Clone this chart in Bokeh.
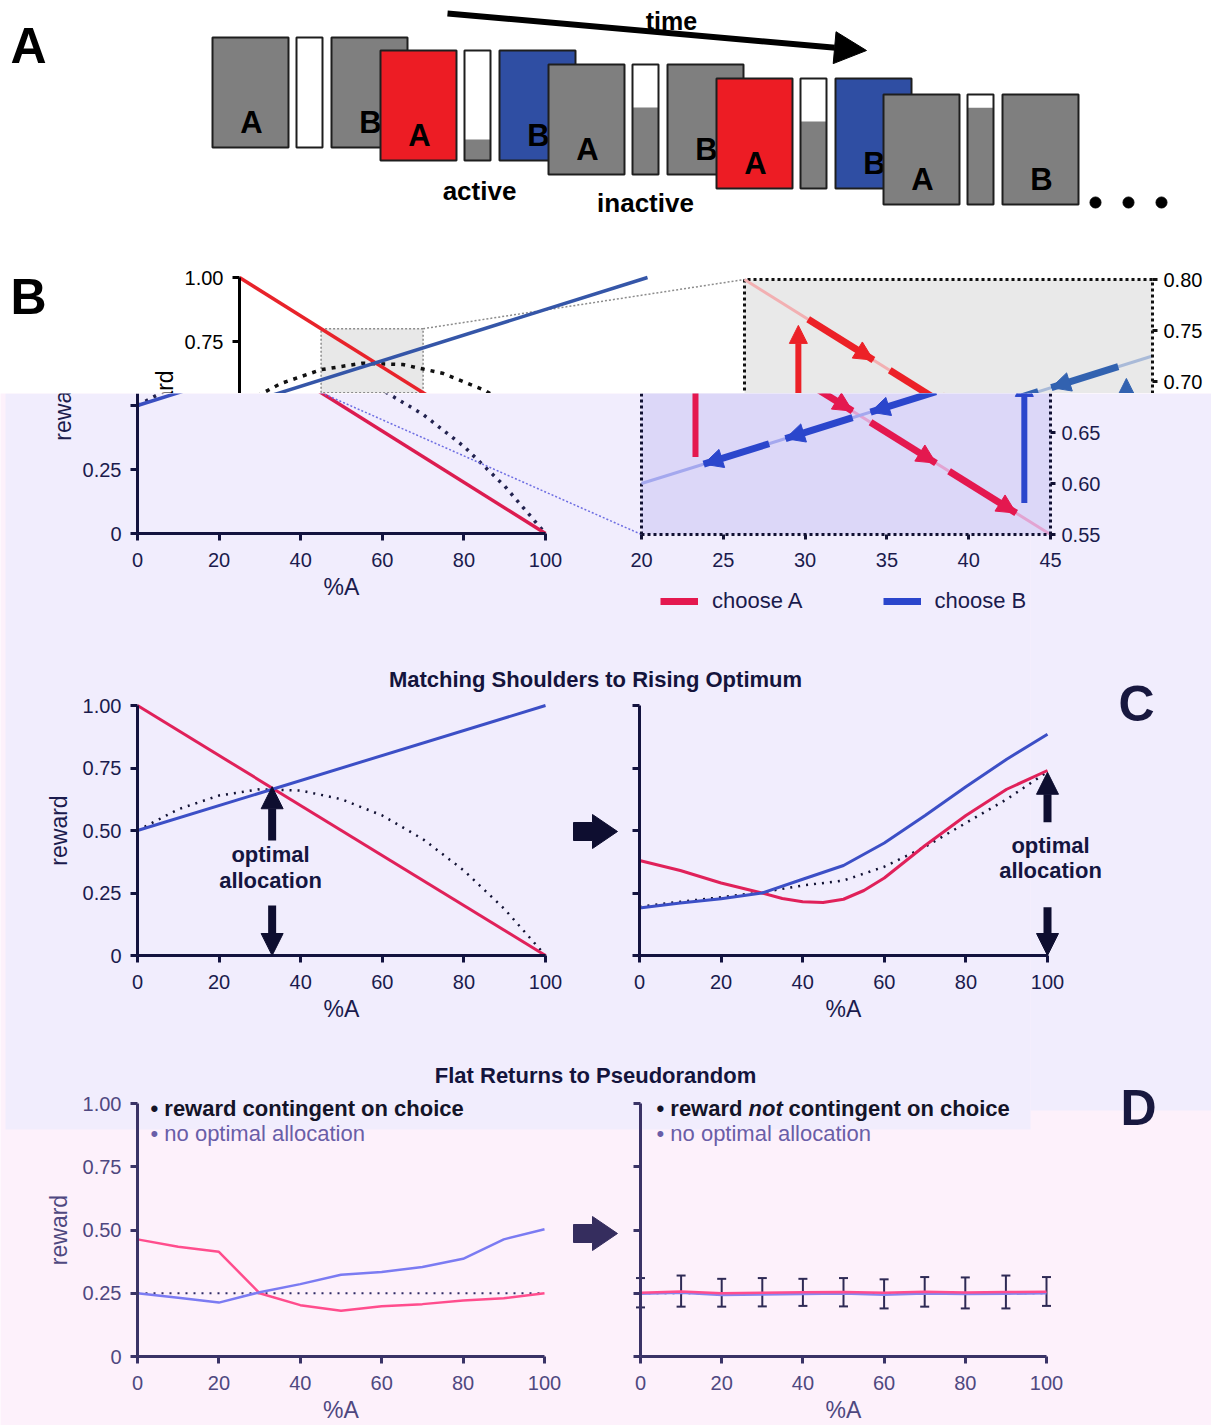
import math
from bokeh.plotting import figure
from bokeh.models import (Range1d, LinearAxis, FixedTicker, ColumnDataSource, Arrow, NormalHead,
                          Whisker, TeeHead, Legend, LegendItem, CustomJSTickFormatter)
from bokeh.layouts import column
from bokeh.embed import file_html
from bokeh.resources import INLINE
from bokeh.core.properties import value

FONT = "Liberation Sans"

# ====================== DATA ======================
pct_A = [0, 10, 20, 30, 40, 50, 60, 70, 80, 90, 100]
tick_pct = [0, 20, 40, 60, 80, 100]
tick_reward = [0, 0.25, 0.5, 0.75, 1.0]

# panel A: trial sequence
trial_A_fill = ["#7f7f7f", "#ed1c24", "#7f7f7f", "#ed1c24", "#7f7f7f"]
trial_B_fill = ["#7f7f7f", "#2f4ea3", "#7f7f7f", "#2f4ea3", "#7f7f7f"]
meter_level = [0.0, 0.19, 0.61, 0.61, 0.88]

# panel B / C-left: linear schedules
sched_x = [0, 100]
sched_A = [1.0, 0.0]
sched_B = [0.5, 1.0]
sched_total = [0.50, 0.585, 0.64, 0.665, 0.66, 0.625, 0.56, 0.465, 0.34, 0.185, 0.0]

# zoom window
zoom_pct = [20, 45]
zoom_reward = [0.55, 0.80]
zoom_A = [0.80, 0.55]
zoom_B = [0.60, 0.725]
zoom_xticks = [20, 25, 30, 35, 40, 45]
zoom_yticks = [0.55, 0.60, 0.65, 0.70, 0.75, 0.80]

choseA_x0 = [23.9, 28.9, 34.0, 38.8]
choseA_y0 = [0.761, 0.711, 0.660, 0.612]
choseA_x1 = [27.9, 32.9, 38.0, 42.9]
choseA_y1 = [0.721, 0.671, 0.620, 0.571]
choseB_x0 = [42.9, 38.0, 32.9, 27.8]
choseB_y0 = [0.7145, 0.690, 0.6645, 0.639]
choseB_x1 = [38.8, 34.0, 28.8, 23.8]
choseB_y1 = [0.694, 0.670, 0.644, 0.619]
switchA_x, switchA_y0, switchA_y1 = [23.3], [0.626], [0.755]
switchB_x, switchB_y0, switchB_y1 = [43.4], [0.581], [0.703]

# panel C right
cr_A_x = [0, 10, 20, 30, 35, 40, 45, 50, 55, 60, 70, 80, 90, 100]
cr_A = [0.38, 0.34, 0.29, 0.25, 0.228, 0.215, 0.212, 0.225, 0.26, 0.31, 0.44, 0.56, 0.665, 0.74]
cr_B = [0.19, 0.21, 0.227, 0.25, 0.305, 0.36, 0.45, 0.56, 0.675, 0.785, 0.885]
cr_total = [0.195, 0.215, 0.233, 0.253, 0.28, 0.30, 0.355, 0.435, 0.53, 0.625, 0.735]

opt_cl_x = [33]
opt_cl_up = ([0.46], [0.675])
opt_cl_dn = ([0.20], [0.0])
opt_cr_x = [100]
opt_cr_up = ([0.533], [0.733])
opt_cr_dn = ([0.193], [0.0])

# panel D
dl_A = [0.463, 0.434, 0.414, 0.25, 0.203, 0.181, 0.199, 0.207, 0.221, 0.23, 0.25]
dl_B = [0.25, 0.232, 0.213, 0.254, 0.286, 0.323, 0.334, 0.354, 0.386, 0.463, 0.503]
chance_x = [0, 100]
chance = [0.25, 0.25]
dr_A = [0.252, 0.257, 0.250, 0.252, 0.254, 0.255, 0.252, 0.256, 0.253, 0.255, 0.256]
dr_B = [0.248, 0.252, 0.243, 0.245, 0.247, 0.249, 0.244, 0.249, 0.247, 0.248, 0.250]
dr_hi = [0.31, 0.32, 0.307, 0.31, 0.307, 0.31, 0.305, 0.314, 0.3125, 0.32, 0.314]
dr_lo = [0.194, 0.197, 0.197, 0.198, 0.20, 0.198, 0.19, 0.197, 0.19, 0.19, 0.20]

# ====================== LAYOUT ======================
W = 1211
XL = 0
F1_TOP, F1_BOT = 0, 393
F2_TOP, F2_BOT = 393, 1425

# value -> image pixel anchors (v0, p0, v1, p1)
G = dict(
    blt_x=(0, 239, 100, 647), blb_x=(0, 137, 100, 545), bl_y=(0, 533, 1, 277),
    brt_x=(20, 744, 45, 1152), brb_x=(20, 641, 45, 1050), br_y=(0.55, 534, 0.80, 279),
    cl_x=(0, 137, 100, 545), cr_x=(0, 639, 100, 1047), c_y=(0, 955, 1, 705),
    dl_x=(0, 137, 100, 544), dr_x=(0, 640, 100, 1046), d_y=(0, 1356, 1, 1103),
)


def xr(g):
    v0, p0, v1, p1 = g
    k = (p1 - p0) / (v1 - v0)
    s = v0 - (p0 - XL) / k
    return Range1d(start=s, end=s + W / k)


def yr(g, top, bot):
    v0, p0, v1, p1 = g
    k = (p0 - p1) / (v1 - v0)
    s = v0 - (bot - p0) / k
    return Range1d(start=s, end=s + (bot - top) / k)


def px(g, v):
    v0, p0, v1, p1 = g
    return p0 + (v - v0) * (p1 - p0) / (v1 - v0)


def make_fig(top, bot, bg):
    p = figure(width=W, height=bot - top, x_range=Range1d(XL, XL + W), y_range=Range1d(bot, top),
               x_axis_location=None, y_axis_location=None, toolbar_location=None, tools="",
               output_backend="svg", min_border=0, outline_line_color=None,
               background_fill_color=bg, border_fill_color=bg)
    for g in p.grid:
        g.visible = False
    return p


def add_axis(p, side, xn, yn, loc, bounds, ticks, color, lab_color, fmt=None, label=None, dash=None,
             lw=3, tick_out=7, standoff=10, size="20px", label_size="23px", label_standoff=6):
    ax = LinearAxis(x_range_name=xn, y_range_name=yn, fixed_location=loc, bounds=bounds,
                    ticker=FixedTicker(ticks=ticks, minor_ticks=[]),
                    axis_line_color=color, axis_line_width=lw,
                    major_tick_line_color=color, major_tick_line_width=lw,
                    major_tick_out=tick_out, major_tick_in=0, minor_tick_line_color=None,
                    major_label_text_color=lab_color, major_label_text_font=FONT,
                    major_label_text_font_size=size, major_label_standoff=standoff)
    if fmt is not None:
        ax.formatter = CustomJSTickFormatter(code=fmt)
    if dash is not None:
        ax.axis_line_dash = dash
    if label is not None:
        ax.axis_label = label
        ax.axis_label_text_font = FONT
        ax.axis_label_text_font_size = label_size
        ax.axis_label_text_font_style = "normal"
        ax.axis_label_text_color = lab_color
        ax.axis_label_standoff = label_standoff
    p.add_layout(ax, side)
    return ax


def txt(p, x, y, s, size, color, style="normal", align="center", baseline="middle"):
    p.text(x=[x], y=[y], text=[s], text_font=value(FONT), text_font_size=size, text_font_style=style,
           text_color=color, text_align=align, text_baseline=baseline)


def arrows(p, xn, yn, x0, y0, x1, y1, color, lw, head, body=True):
    src = ColumnDataSource(dict(x0=x0, y0=y0, x1=x1, y1=y1))
    p.add_layout(Arrow(source=src, x_start="x0", y_start="y0", x_end="x1", y_end="y1",
                       x_range_name=xn, y_range_name=yn, line_color=color, line_width=lw,
                       line_alpha=1.0 if body else 0.0,
                       end=NormalHead(size=head, fill_color=color, line_color=color, line_width=1)))


def block_arrow(p, cx, cy, color):
    xs = [cx - 22, cx - 3, cx - 3, cx + 22, cx - 3, cx - 3, cx - 22]
    ys = [cy - 9, cy - 9, cy - 17, cy, cy + 17, cy + 9, cy + 9]
    p.patch(xs, ys, fill_color=color, line_color=color)


def y_title(p, xn, yn, color):
    # "reward" title centred on the full 0..1 axis span (drawn as rotated text)
    p.text(x=[0], y=[0.5], text=["reward"], angle=math.pi / 2, x_offset=-75,
           text_font=value(FONT), text_font_size="23px", text_color=color,
           text_align="center", text_baseline="middle", x_range_name=xn, y_range_name=yn)


FMT_REWARD = "return tick == 0 ? '0' : tick.toFixed(2)"
FMT_2 = "return tick.toFixed(2)"
FMT_NONE = "return ''"

# ====================== FIGURE 1 (top: panel A + upper part of B) ======================
p1 = make_fig(F1_TOP, F1_BOT, "#ffffff")
p1.extra_x_ranges = {"blx": xr(G["blt_x"]), "brx": xr(G["brt_x"])}
p1.extra_y_ranges = {"bly": yr(G["bl_y"], F1_TOP, F1_BOT), "bry": yr(G["br_y"], F1_TOP, F1_BOT)}

# --- panel A diagram
grp_left = [212, 380, 548, 716, 883]
grp_top = [37, 50, 64, 78, 94]
BOX_W, MET_W, BOX_H = 76, 26, 110
MET_OFF, B_OFF = 84, 119
for i in range(len(meter_level)):
    l, t = grp_left[i], grp_top[i]
    b = t + BOX_H
    p1.quad(left=[l], right=[l + BOX_W], top=[t], bottom=[b], fill_color=trial_A_fill[i],
            line_color="#1e1e1e", line_width=2)
    txt(p1, l + BOX_W / 2 + 1, t + 85, "A", "31px", "#000000", "bold")
    ml = l + MET_OFF
    p1.quad(left=[ml], right=[ml + MET_W], top=[t], bottom=[b], fill_color="#ffffff", line_color=None)
    if meter_level[i] > 0:
        p1.quad(left=[ml], right=[ml + MET_W], top=[b - meter_level[i] * BOX_H], bottom=[b],
                fill_color="#7f7f7f", line_color=None)
    p1.quad(left=[ml], right=[ml + MET_W], top=[t], bottom=[b], fill_color=None,
            line_color="#1e1e1e", line_width=2)
    bl = l + B_OFF
    p1.quad(left=[bl], right=[bl + BOX_W], top=[t], bottom=[b], fill_color=trial_B_fill[i],
            line_color="#1e1e1e", line_width=2)
    txt(p1, bl + BOX_W / 2 + 1, t + 85, "B", "31px", "#000000", "bold")

txt(p1, 479, 190, "active", "26px", "#000000", "bold")
txt(p1, 645, 202, "inactive", "26px", "#000000", "bold")
p1.scatter(x=[1095, 1128, 1161], y=[202, 202, 202], size=11, color="#000000")
p1.add_layout(Arrow(x_start=447, y_start=13, x_end=866, y_end=50, line_width=6, line_color="#000000",
                    end=NormalHead(size=32, fill_color="#000000", line_color="#000000")))
txt(p1, 671, 20, "time", "25px", "#000000", "bold")
txt(p1, 28, 45, "A", "50px", "#000000", "bold")
txt(p1, 28, 296, "B", "50px", "#000000", "bold")

# --- B left (upper part)
p1.quad(left=[zoom_pct[0]], right=[zoom_pct[1]], bottom=[zoom_reward[0]], top=[zoom_reward[1]],
        fill_color="#e8e8e8", line_color="#8c8c8c", line_dash="2 2", line_width=1.5,
        x_range_name="blx", y_range_name="bly")
p1.line(x=[px(G["blt_x"], zoom_pct[1]), px(G["brt_x"], zoom_pct[0])],
        y=[px(G["bl_y"], zoom_reward[1]), px(G["br_y"], zoom_reward[1])],
        line_color="#8c8c8c", line_dash="2 2", line_width=1.5)
p1.line(x=pct_A, y=sched_total, line_color="#111111", line_width=3.5, line_dash="4 6",
        x_range_name="blx", y_range_name="bly")
p1.line(x=sched_x, y=sched_A, line_color="#e8232a", line_width=3.5, x_range_name="blx", y_range_name="bly")
p1.line(x=sched_x, y=sched_B, line_color="#3556a8", line_width=3.5, x_range_name="blx", y_range_name="bly")
add_axis(p1, "left", "blx", "bly", 0, (0, 1), tick_reward, "#000000", "#000000", fmt=FMT_REWARD,
         standoff=9)
y_title(p1, "blx", "bly", "#000000")

# --- B right (upper part)
p1.quad(left=[zoom_pct[0]], right=[zoom_pct[1]], bottom=[zoom_reward[0]], top=[zoom_reward[1]],
        fill_color="#e9e9e9", line_color=None, x_range_name="brx", y_range_name="bry")
p1.line(x=[zoom_pct[0], zoom_pct[0], zoom_pct[1]], y=[zoom_reward[0], zoom_reward[1], zoom_reward[1]],
        line_color="#111111", line_width=3, line_dash="3 3", x_range_name="brx", y_range_name="bry")
p1.line(x=zoom_pct, y=zoom_A, line_color="#f2b0b2", line_width=3, x_range_name="brx", y_range_name="bry")
p1.line(x=zoom_pct, y=zoom_B, line_color="#a9bad8", line_width=3, x_range_name="brx", y_range_name="bry")
p1.segment(x0=choseA_x0, y0=choseA_y0, x1=choseA_x1, y1=choseA_y1, line_color="#ec2127", line_width=7,
           x_range_name="brx", y_range_name="bry")
arrows(p1, "brx", "bry", choseA_x0, choseA_y0, choseA_x1, choseA_y1, "#ec2127", 7, 19, body=False)
p1.segment(x0=choseB_x0, y0=choseB_y0, x1=choseB_x1, y1=choseB_y1, line_color="#3262b0", line_width=7,
           x_range_name="brx", y_range_name="bry")
arrows(p1, "brx", "bry", choseB_x0, choseB_y0, choseB_x1, choseB_y1, "#3262b0", 7, 19, body=False)
arrows(p1, "brx", "bry", switchA_x, switchA_y0, switchA_x, switchA_y1, "#ec2127", 6, 18)
arrows(p1, "brx", "bry", switchB_x, switchB_y0, switchB_x, switchB_y1, "#3262b0", 6, 18)
add_axis(p1, "right", "brx", "bry", zoom_pct[1], tuple(zoom_reward), zoom_yticks, "#111111", "#000000",
         fmt=FMT_2, dash="3 3", tick_out=5, standoff=6)

# ====================== FIGURE 2 (lower part of B, C, D) ======================
LAV = "#f1edfd"
PINK = "#fdf1fb"
p2 = make_fig(F2_TOP, F2_BOT, PINK)
p2.extra_x_ranges = {"blx": xr(G["blb_x"]), "brx": xr(G["brb_x"]), "clx": xr(G["cl_x"]),
                     "crx": xr(G["cr_x"]), "dlx": xr(G["dl_x"]), "drx": xr(G["dr_x"])}
p2.extra_y_ranges = {"bly": yr(G["bl_y"], F2_TOP, F2_BOT), "bry": yr(G["br_y"], F2_TOP, F2_BOT),
                     "cy": yr(G["c_y"], F2_TOP, F2_BOT), "dy": yr(G["d_y"], F2_TOP, F2_BOT)}

p2.quad(left=[XL + 5, 1030], right=[1030, XL + W], top=[F2_TOP, F2_TOP], bottom=[1129, 1110],
        fill_color=LAV, line_color=None)

NAVY = "#13133f"
NAVY_T = "#1b1b4d"

# --- B left (lower part)
p2.line(x=pct_A, y=sched_total, line_color="#22224f", line_width=3.5, line_dash="3 6",
        x_range_name="blx", y_range_name="bly")
p2.line(x=sched_x, y=sched_A, line_color="#dc1c50", line_width=3.5, x_range_name="blx", y_range_name="bly")
p2.line(x=sched_x, y=sched_B, line_color="#3a4fc0", line_width=3.5, x_range_name="blx", y_range_name="bly")
add_axis(p2, "left", "blx", "bly", 0, (0, 1), tick_reward, NAVY, NAVY_T,
         fmt="return tick >= 0.5 ? '' : (tick == 0 ? '0' : tick.toFixed(2))", standoff=9)
y_title(p2, "blx", "bly", NAVY_T)
add_axis(p2, "below", "blx", "bly", 0, (0, 100), tick_pct, NAVY, NAVY_T, label="%A", standoff=12,
         label_standoff=4)
p2.line(x=[px(G["blt_x"], zoom_pct[0]), px(G["brb_x"], zoom_pct[0])],
        y=[px(G["bl_y"], zoom_reward[0]), px(G["br_y"], zoom_reward[0])],
        line_color="#6d6de2", line_dash="2 2", line_width=1.5)

# --- B right (lower part)
p2.quad(left=[zoom_pct[0]], right=[zoom_pct[1]], bottom=[zoom_reward[0]], top=[zoom_reward[1]],
        fill_color="#dcd7f8", line_color=None, x_range_name="brx", y_range_name="bry")
p2.line(x=[zoom_pct[0], zoom_pct[0]], y=zoom_reward, line_color="#111133", line_width=3, line_dash="3 3",
        x_range_name="brx", y_range_name="bry")
p2.line(x=zoom_pct, y=zoom_A, line_color="#e2a4d2", line_width=3, x_range_name="brx", y_range_name="bry")
p2.line(x=zoom_pct, y=zoom_B, line_color="#a4a8ee", line_width=3, x_range_name="brx", y_range_name="bry")
segA = p2.segment(x0=choseA_x0, y0=choseA_y0, x1=choseA_x1, y1=choseA_y1, line_color="#e4184f",
                  line_width=7, x_range_name="brx", y_range_name="bry")
arrows(p2, "brx", "bry", choseA_x0, choseA_y0, choseA_x1, choseA_y1, "#e4184f", 7, 19, body=False)
segB = p2.segment(x0=choseB_x0, y0=choseB_y0, x1=choseB_x1, y1=choseB_y1, line_color="#2b46cc",
                  line_width=7, x_range_name="brx", y_range_name="bry")
arrows(p2, "brx", "bry", choseB_x0, choseB_y0, choseB_x1, choseB_y1, "#2b46cc", 7, 19, body=False)
arrows(p2, "brx", "bry", switchA_x, switchA_y0, switchA_x, switchA_y1, "#e4184f", 6, 18)
arrows(p2, "brx", "bry", switchB_x, switchB_y0, switchB_x, switchB_y1, "#2b46cc", 6, 18)
add_axis(p2, "below", "brx", "bry", zoom_reward[0], tuple(zoom_pct), zoom_xticks, "#111133", NAVY_T,
         dash="3 3", tick_out=5, standoff=13)
add_axis(p2, "right", "brx", "bry", zoom_pct[1], tuple(zoom_reward), zoom_yticks, "#111133", NAVY_T,
         fmt=FMT_2, dash="3 3", tick_out=5, standoff=6)

legend = Legend(items=[LegendItem(label="choose A", renderers=[segA]),
                       LegendItem(label="choose B", renderers=[segB])],
                orientation="horizontal", location=(660 - XL, F2_BOT - 614),
                background_fill_alpha=0, border_line_color=None, padding=0, margin=0, spacing=80,
                glyph_width=38, glyph_height=26, label_height=26, label_standoff=14,
                label_text_font=FONT, label_text_font_size="22px", label_text_color=NAVY_T)
p2.add_layout(legend, "center")

# --- C
txt(p2, 595, 679, "Matching Shoulders to Rising Optimum", "22px", "#14143c", "bold")
txt(p2, 1136, 703, "C", "50px", "#18183f", "bold")
C_RED, C_BLUE, C_DOT = "#e0215a", "#3c4fc6", "#111133"
p2.line(x=pct_A, y=sched_total, line_color=C_DOT, line_width=2.5, line_dash="2 6",
        x_range_name="clx", y_range_name="cy")
p2.line(x=sched_x, y=sched_A, line_color=C_RED, line_width=3, x_range_name="clx", y_range_name="cy")
p2.line(x=sched_x, y=sched_B, line_color=C_BLUE, line_width=3, x_range_name="clx", y_range_name="cy")
add_axis(p2, "left", "clx", "cy", 0, (0, 1), tick_reward, NAVY, NAVY_T, fmt=FMT_REWARD,
         label="reward", standoff=9, label_standoff=8)
add_axis(p2, "below", "clx", "cy", 0, (0, 100), tick_pct, NAVY, NAVY_T, label="%A", standoff=12,
         label_standoff=4)
arrows(p2, "clx", "cy", opt_cl_x, opt_cl_up[0], opt_cl_x, opt_cl_up[1], "#0e0e30", 8, 22)
arrows(p2, "clx", "cy", opt_cl_x, opt_cl_dn[0], opt_cl_x, opt_cl_dn[1], "#0e0e30", 8, 22)
txt(p2, 270, 854, "optimal", "22px", "#15153f", "bold")
txt(p2, 270, 880, "allocation", "22px", "#15153f", "bold")
block_arrow(p2, 595, 831, "#0e0e30")

p2.line(x=pct_A, y=cr_total, line_color=C_DOT, line_width=2.5, line_dash="2 6",
        x_range_name="crx", y_range_name="cy")
p2.line(x=cr_A_x, y=cr_A, line_color=C_RED, line_width=3, x_range_name="crx", y_range_name="cy")
p2.line(x=pct_A, y=cr_B, line_color=C_BLUE, line_width=3, x_range_name="crx", y_range_name="cy")
add_axis(p2, "left", "crx", "cy", 0, (0, 1), tick_reward, NAVY, NAVY_T, fmt=FMT_NONE)
add_axis(p2, "below", "crx", "cy", 0, (0, 100), tick_pct, NAVY, NAVY_T, label="%A", standoff=12,
         label_standoff=4)
arrows(p2, "crx", "cy", opt_cr_x, opt_cr_up[0], opt_cr_x, opt_cr_up[1], "#0e0e30", 8, 22)
arrows(p2, "crx", "cy", opt_cr_x, opt_cr_dn[0], opt_cr_x, opt_cr_dn[1], "#0e0e30", 8, 22)
txt(p2, 1050, 845, "optimal", "22px", "#15153f", "bold")
txt(p2, 1050, 870, "allocation", "22px", "#15153f", "bold")

# --- D
D_AX, D_T = "#3a3366", "#4f4880"
D_RED, D_BLUE = "#ff4d8d", "#7b7bf2"
txt(p2, 595, 1075, "Flat Returns to Pseudorandom", "22px", "#14143c", "bold")
txt(p2, 1138, 1107, "D", "50px", "#18183f", "bold")
p2.line(x=chance_x, y=chance, line_color="#2e2a66", line_width=2, line_dash="2 6",
        x_range_name="dlx", y_range_name="dy")
p2.line(x=pct_A, y=dl_A, line_color=D_RED, line_width=2.5, x_range_name="dlx", y_range_name="dy")
p2.line(x=pct_A, y=dl_B, line_color=D_BLUE, line_width=2.5, x_range_name="dlx", y_range_name="dy")
add_axis(p2, "left", "dlx", "dy", 0, (0, 1), tick_reward, D_AX, D_T, fmt=FMT_REWARD,
         label="reward", standoff=9, label_standoff=8)
add_axis(p2, "below", "dlx", "dy", 0, (0, 100), tick_pct, D_AX, D_T, label="%A", standoff=12,
         label_standoff=4)
txt(p2, 150, 1108, "• reward contingent on choice", "22px", "#141428", "bold", align="left")
txt(p2, 150, 1133, "• no optimal allocation", "22px", "#6a5ea8", "normal", align="left")
block_arrow(p2, 595, 1233, "#352d5e")

p2.line(x=chance_x, y=chance, line_color="#2e2a66", line_width=2, line_dash="2 6",
        x_range_name="drx", y_range_name="dy")
p2.line(x=pct_A, y=dr_B, line_color="#8686f0", line_width=2.5, x_range_name="drx", y_range_name="dy")
p2.line(x=pct_A, y=dr_A, line_color=D_RED, line_width=2.5, x_range_name="drx", y_range_name="dy")
err_src = ColumnDataSource(dict(x=pct_A, hi=dr_hi, lo=dr_lo))
p2.add_layout(Whisker(source=err_src, base="x", upper="hi", lower="lo", dimension="height",
                      line_color="#2e2a55", line_width=2, x_range_name="drx", y_range_name="dy",
                      upper_head=TeeHead(size=9, line_color="#2e2a55", line_width=2),
                      lower_head=TeeHead(size=9, line_color="#2e2a55", line_width=2)))
add_axis(p2, "left", "drx", "dy", 0, (0, 1), tick_reward, D_AX, D_T, fmt=FMT_NONE)
add_axis(p2, "below", "drx", "dy", 0, (0, 100), tick_pct, D_AX, D_T, label="%A", standoff=12,
         label_standoff=4)
txt(p2, 656, 1108, "• reward ", "22px", "#141428", "bold", align="left")
txt(p2, 748, 1108, "not", "22px", "#141428", "bold italic", align="left")
txt(p2, 788, 1108, "contingent on choice", "22px", "#141428", "bold", align="left")
txt(p2, 656, 1133, "• no optimal allocation", "22px", "#6a5ea8", "normal", align="left")

page = column(p1, p2, spacing=0)
open("out.html", "w").write(file_html(page, INLINE))
